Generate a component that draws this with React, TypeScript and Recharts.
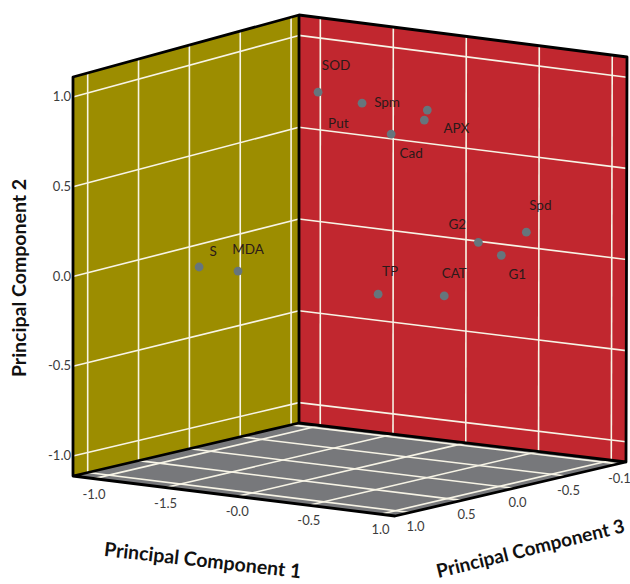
import { Scatter, ScatterChart, XAxis, YAxis } from "recharts";

document.body.style.margin = "0";

const names = ["SOD", "Spm", "Put", "APX", "Cad", "Spd", "G2", "G1", "TP", "CAT", "S", "MDA"];
const pc1 = [-0.856, -0.589, -0.127, -0.091, -0.368, 0.861, 0.459, 0.653, -0.337, 0.189, -0.867, -0.739];
const pc2 = [0.754, 0.713, 0.725, 0.686, 0.571, 0.218, 0.107, 0.062, -0.278, -0.222, -0.04, -0.078];
const pc3 = [-0.85, -0.9, -0.88, -0.8, -0.87, -0.45, -0.55, -0.5, -0.7, -0.6, 0.3, 0.1];

const gridTicks = [-1, -0.5, 0, 0.5, 1];
const pc1Labels = ["-1.0", "-1.5", "-0.0", "-0.5", "1.0"];
const pc2Labels = ["-1.0", "-0.5", "0.0", "0.5", "1.0"];
const pc3Labels = ["-0.1", "-0.5", "0.0", "0.5", "1.0"];

// where each name sits relative to its dot
const labelOffsets: Record<string, [number, number]> = {
  SOD: [18, -26],
  Spm: [25, 0],
  Put: [-89, 14],
  APX: [32, 9],
  Cad: [20, 20],
  Spd: [14, -26],
  G2: [-21, -17],
  G1: [16, 20],
  TP: [12, -22],
  CAT: [10, -22],
  S: [14, -15],
  MDA: [10, -21],
};

const WIDTH = 630;
const HEIGHT = 584;

// corners of the box on the page, [x, y] for (u, w): u runs back to left, w runs back to right
const floorCorners = { back: [299, 423], left: [73, 476], right: [626, 462], front: [395, 516] };
const topCorners = { back: [299, 15], left: [73, 77], right: [627, 57], front: [395, 120] };

const lerp = (a: number, b: number, t: number) => a + (b - a) * t;

const boxPoint = (u: number, v: number, w: number) => {
  const at = (i: number) => {
    const bottom = lerp(
      lerp(floorCorners.back[i], floorCorners.left[i], u),
      lerp(floorCorners.right[i], floorCorners.front[i], u),
      w
    );
    const top = lerp(
      lerp(topCorners.back[i], topCorners.left[i], u),
      lerp(topCorners.right[i], topCorners.front[i], u),
      w
    );
    return lerp(bottom, top, v);
  };
  return { x: at(0), y: at(1) };
};

const uOf = (value: number) => 0.485 + 0.45 * value;
const vOf = (value: number) => 0.5 + 0.45 * value;
const wOf = (value: number) => 0.51 + 0.445 * value;

const points = names.map((name, i) => ({
  name,
  ...boxPoint(uOf(pc3[i]), vOf(pc2[i]), wOf(pc1[i])),
}));

const poly = (corners: { x: number; y: number }[]) => corners.map((c) => `${c.x},${c.y}`).join(" ");

const Seg = ({ a, b, color = "#f7f4e6", width = 1.6 }: any) => (
  <line x1={a.x} y1={a.y} x2={b.x} y2={b.y} stroke={color} strokeWidth={width} />
);

const tickStyle = { fontFamily: "Lato", fontSize: 13, fill: "#3c3c3c" };
const titleStyle = { fontFamily: "Lato", fontSize: 19.5, fontWeight: 700, fill: "#111" };

const Box = () => {
  const p = boxPoint;
  return (
    <g>
      <polygon points={poly([p(1, 0, 0), p(1, 1, 0), p(0, 1, 0), p(0, 0, 0)])} fill="#9c8d00" />
      <polygon points={poly([p(0, 0, 0), p(0, 1, 0), p(0, 1, 1), p(0, 0, 1)])} fill="#c1272f" />
      <polygon points={poly([p(1, 0, 0), p(0, 0, 0), p(0, 0, 1), p(1, 0, 1)])} fill="#77787b" />

      {gridTicks.map((t) => (
        <g key={t}>
          <Seg a={p(1, vOf(t), 0)} b={p(0, vOf(t), 0)} />
          <Seg a={p(0, vOf(t), 0)} b={p(0, vOf(t), 1)} />
          <Seg a={p(uOf(t), 0, 0)} b={p(uOf(t), 1, 0)} />
          <Seg a={p(0, 0, wOf(t))} b={p(0, 1, wOf(t))} />
          <Seg a={p(uOf(t), 0, 0)} b={p(uOf(t), 0, 1)} />
          <Seg a={p(0, 0, wOf(t))} b={p(1, 0, wOf(t))} />
        </g>
      ))}

      <polyline
        points={poly([p(1, 0, 0), p(1, 1, 0), p(0, 1, 0), p(0, 1, 1), p(0, 0, 1), p(0, 0, 0), p(1, 0, 0), p(1, 0, 1), p(0, 0, 1)])}
        fill="none"
        stroke="#000"
        strokeWidth={2.8}
        strokeLinejoin="round"
      />
      <Seg a={p(0, 0, 0)} b={p(0, 1, 0)} color="#000" width={2.8} />

      {gridTicks.map((t, i) => {
        const a = p(1, 0, wOf(t));
        const b = p(uOf(t), 0, 1);
        const c = p(1, vOf(t), 0);
        return (
          <g key={t} style={tickStyle}>
            <text x={a.x} y={a.y + 20} textAnchor="middle">{pc1Labels[i]}</text>
            <text x={b.x + 3.5 + 2 * t} y={b.y + 19} textAnchor="middle">{pc3Labels[i]}</text>
            <text x={c.x - 2} y={c.y + 4} textAnchor="end">{pc2Labels[i]}</text>
          </g>
        );
      })}

      <text transform="translate(26 278) rotate(-90)" textAnchor="middle" style={titleStyle}>Principal Component 2</text>
      <text transform="translate(202 567) rotate(6.5)" textAnchor="middle" style={titleStyle}>Principal Component 1</text>
      <text transform="translate(532 555) rotate(-13.8)" textAnchor="middle" style={{ ...titleStyle, fontSize: 19 }}>Principal Component 3</text>
    </g>
  );
};

const PointMark = ({ cx, cy, payload }: any) => {
  const [dx, dy] = labelOffsets[payload.name];
  return (
    <g>
      <circle cx={cx} cy={cy} r={4.4} fill="#66757c" />
      <text x={cx + dx} y={cy + dy + 4} textAnchor="middle" style={{ fontFamily: "Lato", fontSize: 13.5, fill: "#2b1a1a" }}>
        {payload.name}
      </text>
    </g>
  );
};

const App = () => {
  return (
    <div style={{ width: WIDTH, height: HEIGHT, background: "#fff" }}>
      <ScatterChart width={WIDTH} height={HEIGHT} margin={{ top: 0, right: 0, bottom: 0, left: 0 }}>
        <XAxis type="number" dataKey="x" domain={[0, WIDTH]} hide />
        <YAxis type="number" dataKey="y" domain={[0, HEIGHT]} reversed hide />
        <Box />
        <Scatter data={points} shape={PointMark} isAnimationActive={false} />
      </ScatterChart>
    </div>
  );
};

export default App;
